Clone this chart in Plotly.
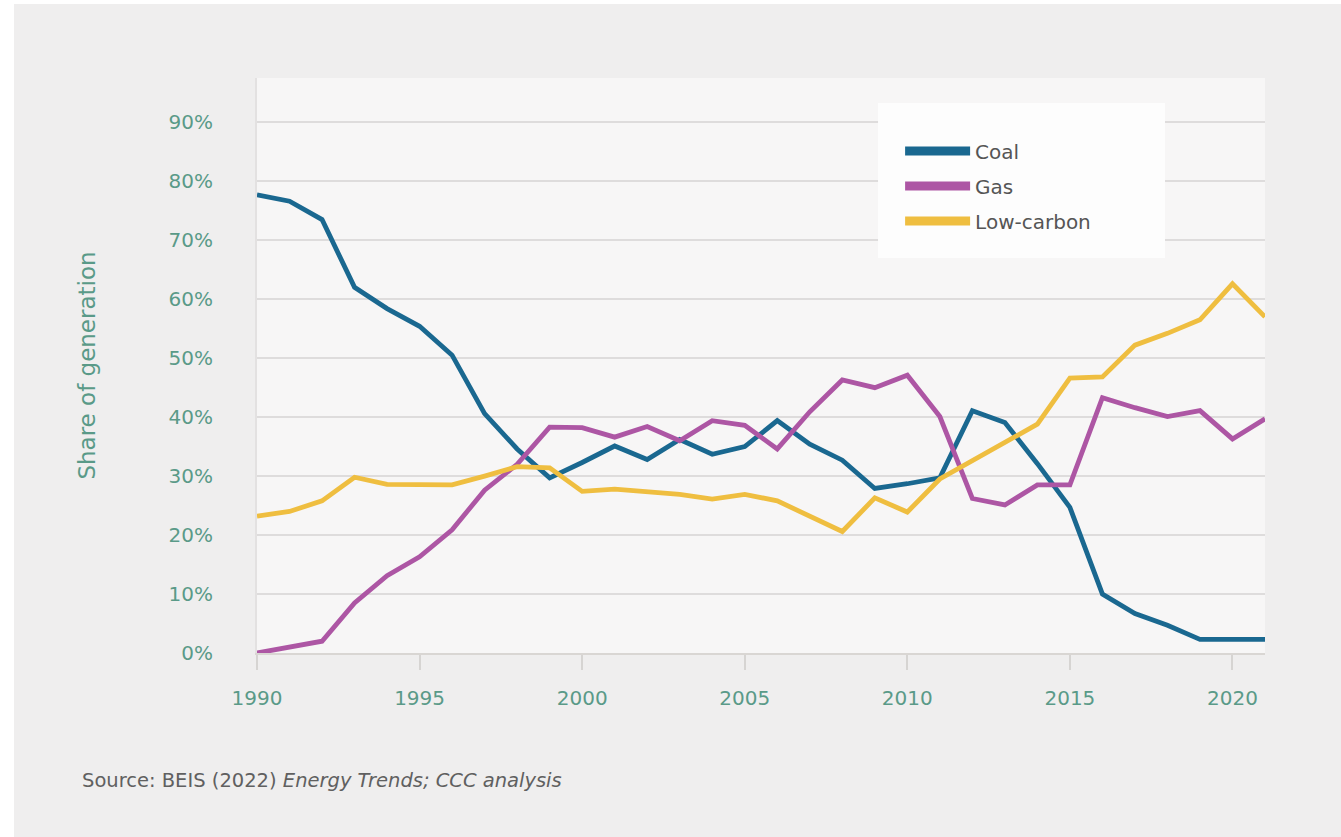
import plotly.graph_objects as go

years = list(range(1990, 2022))
coal = [77.7, 76.6, 73.5, 62.0, 58.4, 55.4, 50.5, 40.6, 34.6, 29.7, 32.3, 35.1, 32.8, 36.2, 33.7, 35.0,
        39.4, 35.4, 32.7, 27.9, 28.7, 29.7, 41.1, 39.1, 32.1, 24.7, 10.0, 6.7, 4.7, 2.3, 2.3, 2.3]
gas = [0.0, 0.9, 2.0, 8.5, 13.1, 16.3, 20.9, 27.6, 32.0, 38.3, 38.2, 36.6, 38.4, 36.0, 39.4, 38.6,
       34.6, 40.9, 46.3, 45.0, 47.1, 40.1, 26.2, 25.1, 28.5, 28.5, 43.3, 41.6, 40.1, 41.1, 36.3, 39.7]
low_carbon = [23.2, 24.0, 25.8, 29.8, 28.6, 28.5, 28.5, 30.0, 31.6, 31.4, 27.4, 27.8, 27.4, 26.9, 26.1, 26.9,
              25.8, 23.2, 20.6, 26.3, 23.9, 29.5, 32.6, 35.6, 38.8, 46.6, 46.8, 52.2, 54.2, 56.5, 62.6, 57.0]

series_names = ["Coal", "Gas", "Low-carbon"]
series_values = [coal, gas, low_carbon]
series_colors = ["#1a6890", "#ad56a4", "#efbe40"]

x_ticks = [1990, 1995, 2000, 2005, 2010, 2015, 2020]
y_ticks = [0, 10, 20, 30, 40, 50, 60, 70, 80, 90]
y_tick_labels = ["0%", "10%", "20%", "30%", "40%", "50%", "60%", "70%", "80%", "90%"]

FONT = "DejaVu Sans"
TEAL = "#5a9a88"

fig = go.Figure()
for name, vals, col in zip(series_names, series_values, series_colors):
    fig.add_trace(go.Scatter(x=years, y=vals, mode="lines", name=name, showlegend=False,
                             line=dict(color=col, width=4.8)))
for name, col in zip(series_names, series_colors):
    fig.add_trace(go.Scatter(x=[None], y=[None], mode="lines", name=name, legendgroup=name,
                             line=dict(color=col, width=9)))

fig.update_layout(
    width=1341, height=837,
    margin=dict(l=257, r=76, t=78, b=184),
    paper_bgcolor="#ffffff",
    plot_bgcolor="#f7f6f6",
    font=dict(family=FONT, color="#555555"),
    showlegend=True,
    legend=dict(x=0.638, y=0.907, xanchor="left", yanchor="top", bgcolor="rgba(0,0,0,0)",
                font=dict(size=20, color="#555555", family=FONT), itemwidth=65,
                tracegroupgap=6, traceorder="grouped"),
    shapes=[
        dict(type="rect", xref="paper", yref="paper", x0=-0.2411, x1=1.1, y0=-0.35, y1=1.1287,
             fillcolor="#efeeee", line=dict(width=0), layer="below"),
        dict(type="rect", xref="paper", yref="paper", x0=0, x1=1, y0=0, y1=1,
             fillcolor="#f7f6f6", line=dict(width=0), layer="below"),
        dict(type="rect", xref="paper", yref="paper", x0=0.6161, x1=0.9008, y0=0.687, y1=0.9565,
             fillcolor="#fdfdfd", line=dict(width=0), layer="above"),
    ],
    annotations=[
        dict(text="Source: BEIS (2022) <i>Energy Trends; CCC analysis</i>", xref="paper", yref="paper",
             x=-0.1756, y=-0.2209, xanchor="left", yanchor="middle", showarrow=False,
             font=dict(size=19.5, color="#606060", family=FONT)),
    ],
)

fig.update_xaxes(range=[1990, 2021], tickvals=x_ticks, ticks="outside", ticklen=15, tickwidth=2,
                 tickcolor="#d6d4d2", showline=True, linecolor="#d9d6d3", linewidth=2,
                 showgrid=False, zeroline=False, ticklabelstandoff=11,
                 tickfont=dict(size=20, color=TEAL, family=FONT))
fig.update_yaxes(range=[0, 97.5], tickmode="array", tickvals=y_ticks, ticktext=y_tick_labels,
                 showgrid=True, gridcolor="#dedcdc", gridwidth=2, zeroline=False, showline=True,
                 linecolor="#e3e1e1", linewidth=2, ticks="", ticklabelstandoff=38,
                 tickfont=dict(size=20, color=TEAL, family=FONT),
                 title=dict(text="Share of generation", standoff=66,
                            font=dict(size=23, color=TEAL, family=FONT)))

fig.write_html("out.html")
